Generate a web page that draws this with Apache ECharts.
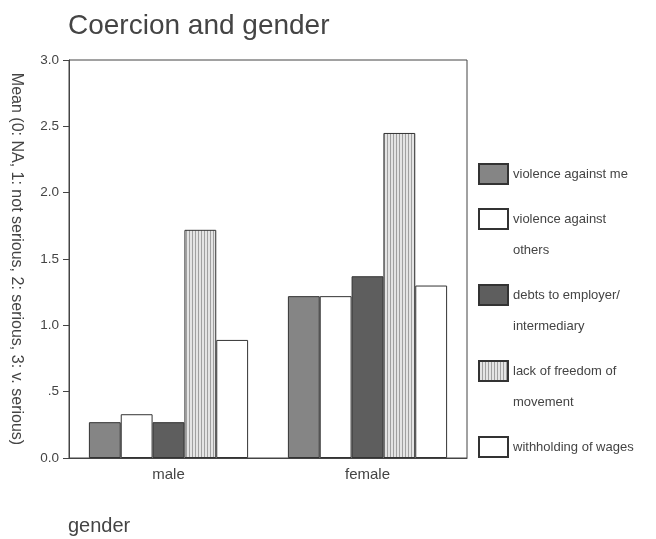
<!DOCTYPE html>
<html><head><meta charset="utf-8">
<script src="https://cdn.jsdelivr.net/npm/echarts@6/dist/echarts.min.js"></script>
<style>html,body{margin:0;padding:0;background:#fff}#c{width:656px;height:539px}</style>
</head><body><div id="c"></div>
<script>
const categories = ['male', 'female'];
const seriesNames = ['violence against me', 'violence against others', 'debts to employer/ intermediary', 'lack of freedom of movement', 'withholding of wages'];
const legendLabels = ['violence against me', '\nviolence against\nothers', '\ndebts to employer/\nintermediary', '\nlack of freedom of\nmovement', '\nwithholding of wages\n'];
const violenceMe = [0.27, 1.22];
const violenceOthers = [0.33, 1.22];
const debts = [0.27, 1.37];
const lackFreedom = [1.72, 2.45];
const wages = [0.89, 1.30];
const yTickLabels = ['0.0', '.5', '1.0', '1.5', '2.0', '2.5', '3.0'];

const cv = document.createElement('canvas');
cv.width = 3; cv.height = 4;
const cx = cv.getContext('2d');
cx.fillStyle = '#e4e4e4'; cx.fillRect(0,0,3,4);
cx.fillStyle = '#a0a0a0'; cx.fillRect(0,0,1,4);
const stripe = {image: cv, repeat: 'repeat'};

const values = [violenceMe, violenceOthers, debts, lackFreedom, wages];
const colors = ['#858585', '#ffffff', '#5e5e5e', stripe, '#ffffff'];
const font = 'Liberation Sans, Arial, sans-serif';

const chart = echarts.init(document.getElementById('c'));
chart.setOption({
  animation: false,
  title: {text: 'Coercion and gender', left: 68, top: 12, padding: 0, textStyle: {fontFamily: font, fontSize: 28, fontWeight: 'normal', color: '#444'}},
  grid: {left: 69, right: 189, top: 60, bottom: 81, show: true, borderColor: '#444', borderWidth: 1, backgroundColor: 'transparent'},
  legend: {
    orient: 'vertical', left: 478, top: 158.5, padding: 0, itemGap: -17,
    itemWidth: 29, itemHeight: 20, icon: 'rect',
    textStyle: {fontFamily: font, fontSize: 13, color: '#444', lineHeight: 31},
    formatter: function (n) { return legendLabels[seriesNames.indexOf(n)]; },
    data: seriesNames
  },
  graphic: [{type: 'text', left: 68, top: 516, style: {text: 'gender', font: '20px ' + font, fill: '#444'}}],
  xAxis: {
    type: 'category', data: categories,
    axisLine: {lineStyle: {color: '#444'}},
    axisTick: {alignWithLabel: true, length: 4, lineStyle: {color: '#444'}},
    axisLabel: {fontFamily: font, fontSize: 15, color: '#444', margin: 9}
  },
  yAxis: {
    type: 'value', min: 0, max: 3, interval: 0.5,
    name: 'Mean (0: NA, 1: not serious, 2: serious, 3: v. serious)',
    nameLocation: 'middle', nameRotate: -90, nameGap: 45,
    nameTextStyle: {fontFamily: font, fontSize: 16, color: '#444'},
    splitLine: {show: false},
    axisLine: {show: true, lineStyle: {color: '#444'}},
    axisTick: {show: true, length: 6, lineStyle: {color: '#444'}},
    axisLabel: {fontFamily: font, fontSize: 13.5, color: '#444', margin: 10,
      formatter: function (v) { return yTickLabels[Math.round(v * 2)]; }}
  },
  series: seriesNames.map(function (n, i) {
    return {
      name: n, type: 'bar', data: values[i], barGap: '0%', barCategoryGap: '20%',
      itemStyle: {color: colors[i], borderColor: '#333', borderWidth: 1}
    };
  })
});
</script></body></html>
